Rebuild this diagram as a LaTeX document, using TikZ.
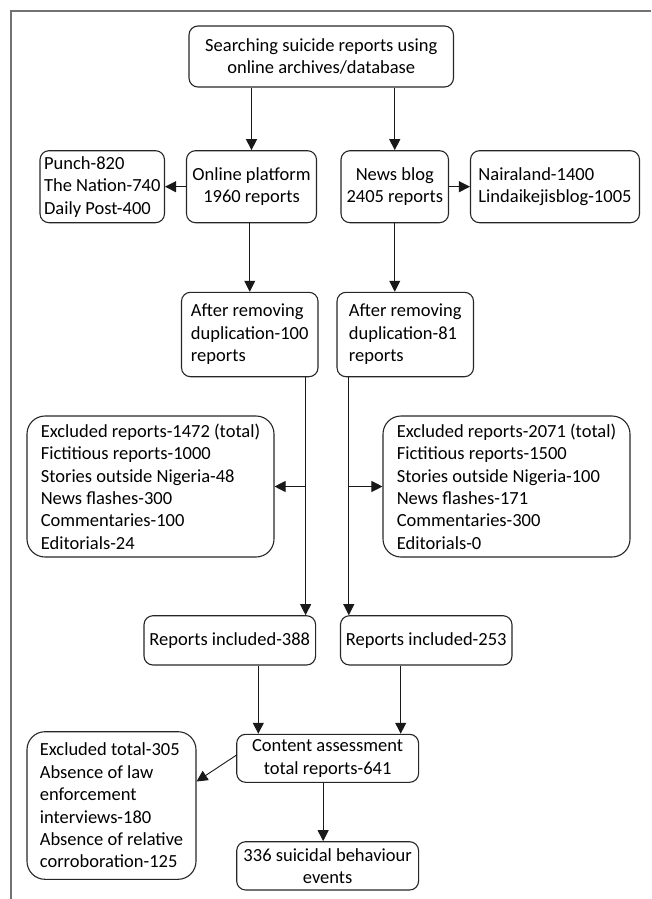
\documentclass[tikz,border=0pt]{standalone}
\usepackage{fontspec}
\setmainfont{Carlito}
\usetikzlibrary{arrows.meta}
\begin{document}
\begin{tikzpicture}[x=1pt,y=-1pt,
  box/.style={draw=black!85,line width=1.1pt,rounded corners=9pt,inner sep=0pt,
    font=\fontsize{18.5}{22.4}\selectfont,text=black},
  cbox/.style={box,align=center},
  lbox/.style={box,align=left},
  big/.style={rounded corners=18pt},
  arr/.style={draw=black!90,line width=0.9pt,-{Triangle[length=11pt,width=11pt]}},
  frame/.style={draw=black!55,line width=1.6pt}]
\useasboundingbox (0,0) rectangle (651,899);
\draw[frame] (11,899) -- (11,11) -- (651,11);

\node[cbox,minimum width=264.5pt,minimum height=61pt] (top) at (321.25,56.5)
  {Searching suicide reports using\\online archives/database};
\node[lbox,minimum width=124.5pt,minimum height=72pt] (punch) at (102.25,186.7)
  {Punch-820\\The Nation-740\\Daily Post-400};
\node[cbox,minimum width=130pt,minimum height=72pt] (online) at (251.5,186.7)
  {Online platform\\1960 reports};
\node[cbox,minimum width=107.5pt,minimum height=72pt] (news) at (394.75,186.7)
  {News blog\\2405 reports};
\node[lbox,minimum width=169pt,minimum height=72pt] (naira) at (555,186.7)
  {Nairaland-1400\\Lindaikejisblog-1005};
\node[lbox,minimum width=136.5pt,minimum height=84.4pt] (after1) at (249.75,334.5)
  {After removing\\duplication-100\\reports};
\node[lbox,minimum width=136.5pt,minimum height=84.4pt] (after2) at (405.25,334.5)
  {After removing\\duplication-81\\reports};
\node[lbox,big,minimum width=247pt,minimum height=141pt] (excl1) at (150.5,486.5)
  {Excluded reports-1472 (total)\\Fictitious reports-1000\\Stories outside Nigeria-48\\News flashes-300\\Commentaries-100\\Editorials-24};
\node[lbox,big,minimum width=247pt,minimum height=141pt] (excl2) at (506.5,486.5)
  {Excluded reports-2071 (total)\\Fictitious reports-1500\\Stories outside Nigeria-100\\News flashes-171\\Commentaries-300\\Editorials-0};
\node[cbox,minimum width=171.6pt,minimum height=49.3pt] (rep1) at (229.8,640.35)
  {Reports included-388};
\node[cbox,minimum width=171.5pt,minimum height=49.3pt] (rep2) at (426.25,640.35)
  {Reports included-253};
\node[cbox,minimum width=181.9pt,minimum height=48pt] (content) at (327.65,758.3)
  {Content assessment\\total reports-641};
\node[lbox,big,minimum width=169pt,minimum height=147.6pt] (excl3) at (111.5,805.5)
  {Excluded total-305\\Absence of law\\enforcement\\interviews-180\\Absence of relative\\corroboration-125};
\node[cbox,minimum width=181.9pt,minimum height=48.3pt] (final) at (327.65,865.85)
  {336 suicidal behaviour\\events};

\coordinate (b1) at ([xshift=55.85pt]after1.south);
\coordinate (b2) at ([xshift=-56.45pt]after2.south);
\coordinate (r1) at ([xshift=28.5pt]rep1.south);
\coordinate (r2) at ([xshift=-25.55pt]rep2.south);
\coordinate (c1) at ([xshift=-4.5pt]content.south);

\draw[arr] (top.south -| online.north) -- (online.north);
\draw[arr] (top.south -| news.north) -- (news.north);
\draw[arr] (online.west) -- (punch.east);
\draw[arr] (news.east) -- (naira.west);
\draw[arr] (after1.north |- online.south) -- (after1.north);
\draw[arr] (news.south) -- (news.south |- after2.north);
\draw[arr] (b1) -- (b1 |- rep1.north);
\draw[arr] (b1 |- excl1.east) -- (excl1.east);
\draw[arr] (b2) -- (b2 |- rep2.north);
\draw[arr] (b2 |- excl2.west) -- (excl2.west);
\draw[arr] (r1) -- (r1 |- content.north);
\draw[arr] (r2) -- (r2 |- content.north);
\draw[arr] ([yshift=3pt]content.west) -- ([yshift=24pt]excl3.east);
\draw[arr] (c1) -- (c1 |- final.north);
\end{tikzpicture}
\end{document}
